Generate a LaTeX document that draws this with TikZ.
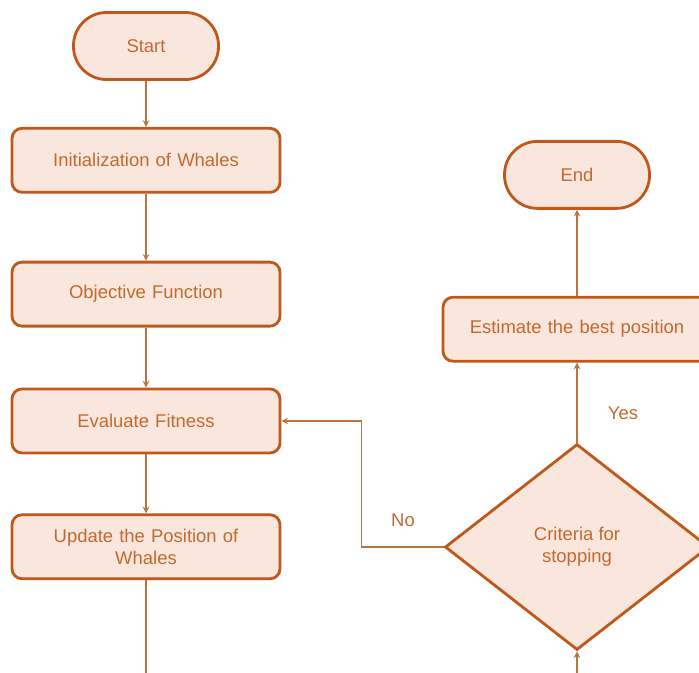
\documentclass[tikz,border=0pt]{standalone}
\usepackage{fontspec}
\setmainfont{Liberation Sans}
\usetikzlibrary{shapes,arrows,positioning}

\definecolor{edge}{HTML}{C0581C}
\definecolor{boxfill}{HTML}{F9E7DD}
\definecolor{ink}{HTML}{C4692E}
\definecolor{wire}{HTML}{BA7440}

\begin{document}
\begin{tikzpicture}[
    node distance=1.2cm,
    font=\fontsize{10.5}{12.5}\selectfont,
    term/.style={rectangle, draw=edge, line width=1.6pt, fill=boxfill, text=ink, minimum width=2.9cm, minimum height=1.34cm, rounded corners=0.66cm},
    block/.style={rectangle, draw=edge, line width=1.6pt, fill=boxfill, text=ink, text width=5cm, align=center, minimum width=5.36cm, minimum height=1.28cm, rounded corners=0.2cm},
    decision/.style={diamond, draw=edge, line width=1.6pt, fill=boxfill, text=ink, align=center, minimum width=5.28cm, minimum height=4.12cm, inner sep=0pt},
    tag/.style={text=ink},
    line/.style={draw=wire, line width=0.7pt},
    arrow/.style={line, ->, >=stealth}
  ]

  % visible frame
  \path[use as bounding box, clip] (0,0) rectangle (13.98,-13.44);

  % Main loop (left column)
  \node[term] (start) at (2.92,-0.92) {Start};
  \node[block, below=0.92cm of start] (init) {Initialization of Whales};
  \node[block, below=1.34cm of init] (objective) {Objective Function};
  \node[block, below=1.2cm of objective] (evaluate) {Evaluate Fitness};
  \node[block, below=1.18cm of evaluate] (update) {Update the Position of\\Whales};

  % Stopping check (right column)
  \node[decision] (criteria) at (11.54,-10.94) {Criteria for\\stopping};
  \node[block, above=1.6cm of criteria] (estimate) {Estimate the best position};
  \node[term, above=1.72cm of estimate] (finish) {End};

  % Branch labels
  \node[tag] (nolabel) at (8.06,-10.4) {No};
  \node[tag] (yeslabel) at (12.46,-8.26) {Yes};

  % Loop ends below the frame
  \coordinate (exitL) at (2.92,-13.8);
  \coordinate (exitR) at (11.54,-13.8);

  % Arrows
  \draw[arrow] (start) -- (init);
  \draw[arrow] (init) -- (objective);
  \draw[arrow] (objective) -- (evaluate);
  \draw[arrow] (evaluate) -- (update);
  \draw[line] (update.south) -- (update.south |- exitL);
  \draw[arrow] (criteria.south |- exitR) -- (criteria.south);
  \draw[arrow] (criteria.west) -- ++(-1.64,0) |- (evaluate.east);
  \draw[arrow] (criteria.north) -- (estimate.south);
  \draw[arrow] (estimate.north) -- (finish.south);

\end{tikzpicture}
\end{document}
